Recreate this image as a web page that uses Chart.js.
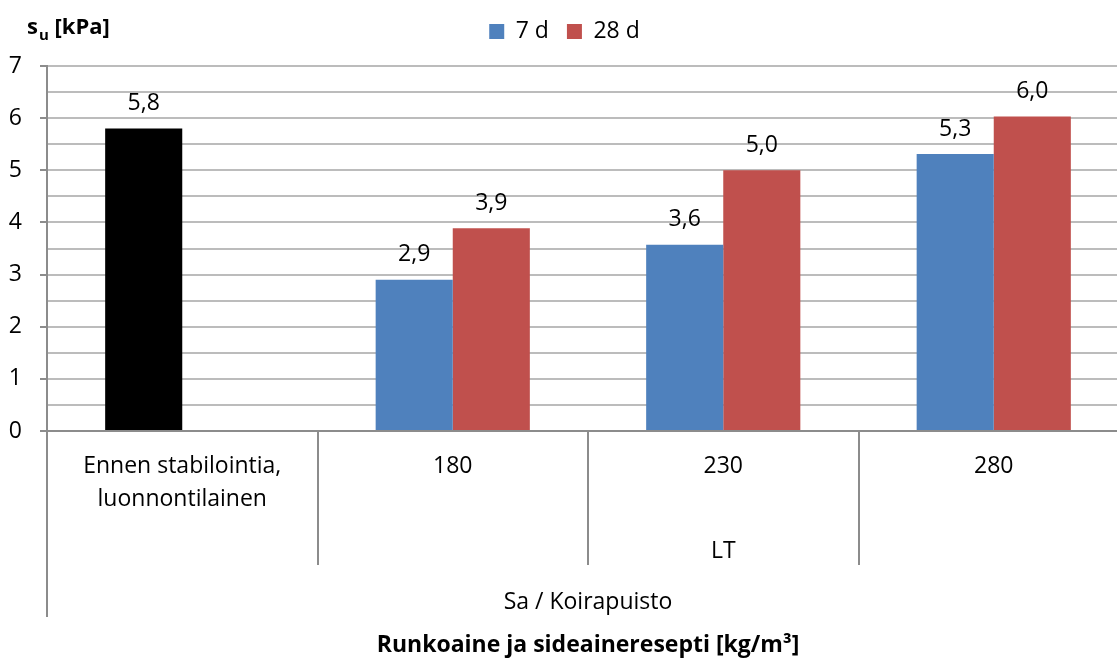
<!DOCTYPE html>
<html>
<head>
<meta charset="utf-8">
<script src="https://cdn.jsdelivr.net/npm/chart.js@4.4.0/dist/chart.umd.min.js"></script>
<style>
  html, body { margin: 0; padding: 0; background: #fff; overflow: hidden; }
  canvas { display: block; }
</style>
</head>
<body>
<canvas id="chart" width="1130" height="663"></canvas>
<script>
// data
const categories = [["Ennen stabilointia,", "luonnontilainen"], "180", "230", "280"];
const seriesNames = ["7 d", "28 d"];
const values7d = [5.8, 2.9, 3.57, 5.31];
const values28d = [null, 3.89, 5.0, 6.03];
const level2Group = { label: "LT", from: 1, to: 3 };
const level3Group = { label: "Sa / Koirapuisto", from: 0, to: 3 };
const yMin = 0;
const yMax = 7;
const yStep = 0.5;
const xTitle = "Runkoaine ja sideaineresepti [kg/m³]";

const seriesColors = ["#4F81BD", "#C0504D"];
const baseColor = "#000000"; // the untreated sample bar
const axisGrey = "#8c8c8c";
const gridGrey = "#bcbcbc";
const FONT = "'Open Sans', sans-serif";

Chart.defaults.font.family = FONT;
Chart.defaults.color = "#000";

// value labels above bars, with a decimal comma
const valueLabels = {
  id: "valueLabels",
  afterDatasetsDraw(chart) {
    const ctx = chart.ctx;
    ctx.save();
    ctx.font = "23px " + FONT;
    ctx.fillStyle = "#000";
    ctx.textAlign = "center";
    ctx.textBaseline = "middle";
    chart.data.datasets.forEach((ds, i) => {
      chart.getDatasetMeta(i).data.forEach((bar, j) => {
        const v = ds.data[j];
        if (v == null) return;
        ctx.fillText(v.toFixed(1).replace(".", ","), bar.x, bar.y - 25);
      });
    });
    ctx.restore();
  }
};

// extra category levels under the x axis + the y axis title
const groupAxis = {
  id: "groupAxis",
  afterDraw(chart) {
    const { ctx, chartArea } = chart;
    const x = chart.scales.x;
    const tickLen = x.options.grid.tickLength;
    ctx.save();

    ctx.strokeStyle = axisGrey;
    ctx.lineWidth = 2;
    ctx.beginPath();
    ctx.moveTo(chartArea.left, x.top + tickLen);
    ctx.lineTo(chartArea.left, x.top + tickLen + 52);
    ctx.stroke();

    ctx.font = "23px " + FONT;
    ctx.fillStyle = "#000";
    ctx.textAlign = "center";
    ctx.textBaseline = "middle";
    [[level2Group, 120], [level3Group, 171]].forEach(([g, dy]) => {
      const cx = (x.getPixelForValue(g.from) + x.getPixelForValue(g.to)) / 2;
      ctx.fillText(g.label, cx, x.top + dy);
    });

    // s_u [kPa]
    ctx.textAlign = "left";
    ctx.textBaseline = "alphabetic";
    let tx = 27;
    ctx.font = "bold 22px " + FONT;
    ctx.fillText("s", tx, 34);
    tx += ctx.measureText("s").width + 1;
    ctx.font = "bold 15px " + FONT;
    ctx.fillText("u", tx, 40);
    tx += ctx.measureText("u").width;
    ctx.font = "bold 22px " + FONT;
    ctx.fillText(" [kPa]", tx, 34);

    ctx.restore();
  }
};

new Chart(document.getElementById("chart"), {
  type: "bar",
  data: {
    labels: categories,
    datasets: [
      {
        label: seriesNames[0],
        data: values7d,
        backgroundColor: values7d.map((v, i) => (i === 0 ? baseColor : seriesColors[0])),
        borderWidth: 0
      },
      {
        label: seriesNames[1],
        data: values28d,
        backgroundColor: seriesColors[1],
        borderWidth: 0
      }
    ]
  },
  options: {
    responsive: false,
    animation: false,
    layout: { padding: { top: 2, left: 0, right: 1, bottom: 0 } },
    datasets: {
      bar: { categoryPercentage: 0.57, barPercentage: 1.0 }
    },
    plugins: {
      tooltip: { enabled: false },
      // empty title used as a gap between legend and plot
      title: {
        display: true,
        text: "",
        weight: 500,
        font: { size: 1, lineHeight: 1 },
        padding: { top: 0, bottom: 12 }
      },
      legend: {
        position: "top",
        labels: {
          font: { size: 23 },
          color: "#000",
          boxWidth: 15,
          boxHeight: 15,
          padding: 18,
          generateLabels(chart) {
            const items = Chart.defaults.plugins.legend.labels.generateLabels(chart);
            items.forEach((it, i) => {
              it.fillStyle = seriesColors[i];
              it.strokeStyle = seriesColors[i];
              it.lineWidth = 0;
            });
            return items;
          }
        }
      }
    },
    scales: {
      x: {
        afterFit(s) { s.height = 232; },
        border: { display: true, color: axisGrey, width: 2 },
        grid: {
          offset: true,
          drawOnChartArea: false,
          drawTicks: true,
          tickLength: 134,
          color: axisGrey,
          lineWidth: 2
        },
        ticks: {
          autoSkip: false,
          maxRotation: 0,
          minRotation: 0,
          padding: -115,
          color: "#000",
          font: { size: 23, lineHeight: "33px" }
        },
        title: {
          display: true,
          text: xTitle,
          color: "#000",
          font: { size: 23, weight: "bold" },
          padding: { top: 0, bottom: 4 }
        }
      },
      y: {
        min: yMin,
        max: yMax,
        afterFit(s) { s.width = 47; },
        border: { display: true, color: axisGrey, width: 2 },
        grid: {
          color: gridGrey,
          lineWidth: 2,
          drawTicks: true,
          tickLength: 7,
          tickColor: (c) => (Number.isInteger(c.tick.value) ? axisGrey : "rgba(0,0,0,0)")
        },
        ticks: {
          stepSize: yStep,
          autoSkip: false,
          padding: 18,
          color: "#000",
          font: { size: 23 },
          callback: (v) => (Number.isInteger(v) ? String(v) : "")
        }
      }
    }
  },
  plugins: [valueLabels, groupAxis]
});
</script>
</body>
</html>
